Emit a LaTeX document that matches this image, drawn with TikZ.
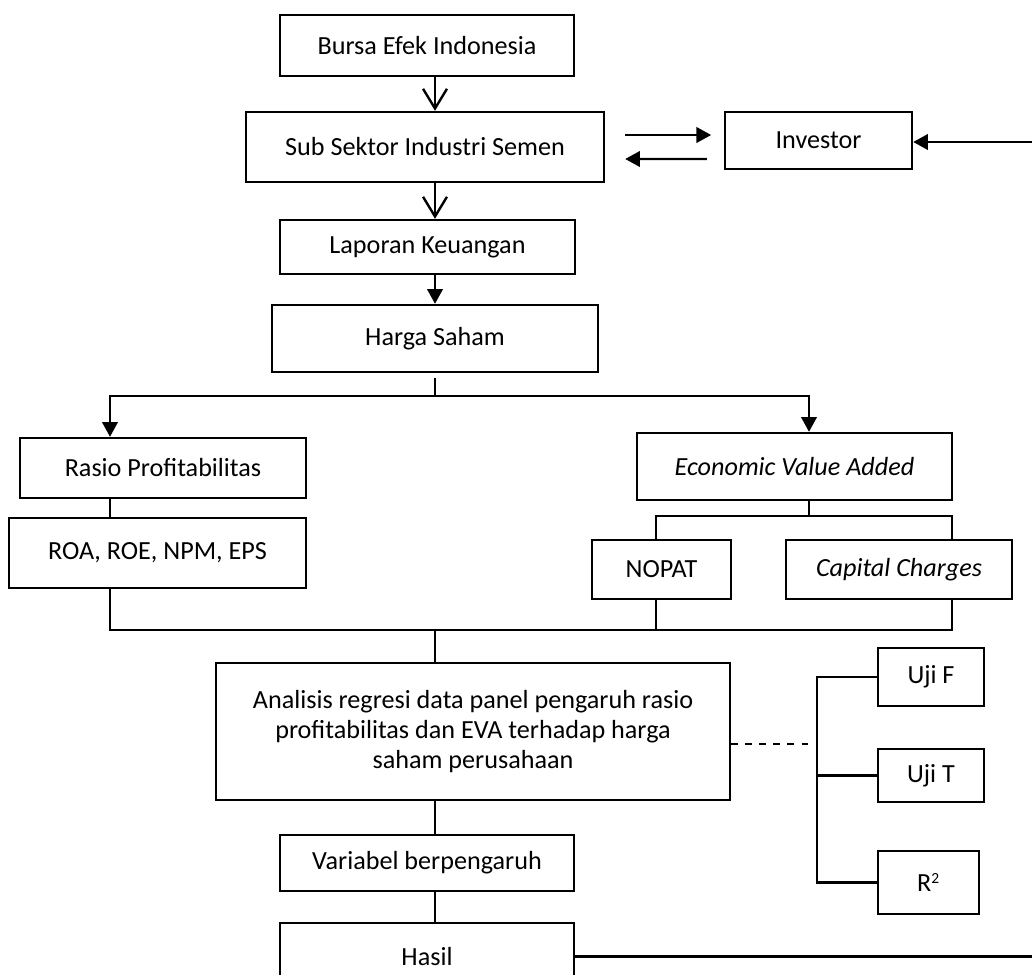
\documentclass[tikz,border=0pt]{standalone}
\usepackage{fontspec}
\setmainfont{Carlito}
\usetikzlibrary{arrows.meta, positioning, calc}

\begin{document}
\begin{tikzpicture}[x=0.025cm, y=-0.025cm,
  box/.style={draw, line width=1.7pt, inner sep=2pt, align=center, font=\fontsize{18.6}{21.5}\selectfont},
  boxsize/.style 2 args={minimum width=#1*0.025cm, minimum height=#2*0.025cm},
  link/.style={line width=1.7pt},
  openarrow/.style={link, -{Straight Barb[length=14pt, width=17pt, line width=1.7pt]}},
  fillarrow/.style={link, -{Triangle[length=10.5pt, width=11pt]}}
]
\useasboundingbox (0,0) rectangle (1032,974);

% main column
\node[box, boxsize={294}{61}] (bursa) at (427,45.5) {Bursa Efek Indonesia};
\node[box, boxsize={358}{70}] (sub) at (425,147) {Sub Sektor Industri Semen};
\node[box, boxsize={295}{54}] (lap) at (427.5,247) {Laporan Keuangan};
\node[box, boxsize={326}{67}] (harga) at (435,338.5) {Harga Saham};
\node[box, boxsize={187}{57}] (inv) at (818.5,140.5) {Investor};

% two branches
\node[box, boxsize={286}{60}] (rasio) at (163,468) {Rasio Profitabilitas};
\node[box, boxsize={297}{70}] (roa) at (157.5,553) {ROA, ROE, NPM, EPS};
\node[box, boxsize={315}{67}] (eva) at (794.5,466.5) {\itshape Economic Value Added};
\node[box, boxsize={139}{59}] (nopat) at (661.5,569.5) {NOPAT};
\node[box, boxsize={226}{59}] (cap) at (899,569.5) {\itshape Capital Charges};

% analysis and tests
\node[box, boxsize={514}{137}] (anal) at (473,731.5) {Analisis regresi data panel pengaruh rasio\\profitabilitas dan EVA terhadap harga\\saham perusahaan};
\node[box, boxsize={106}{58}] (ujif) at (931,677) {Uji F};
\node[box, boxsize={106}{53}] (ujit) at (931,775.5) {Uji T};
\node[box, boxsize={101}{63}] (rsq) at (928.5,882.5) {R\textsuperscript{\fontsize{11}{11}\selectfont 2}};
\node[box, boxsize={294}{56}] (var) at (427,863) {Variabel berpengaruh};
\node[box, boxsize={294}{67}] (hasil) at (427,956.5) {Hasil};

% helper coordinates
\coordinate (split) at (435,396);
\coordinate (splitL) at (110,396);
\coordinate (splitR) at (809,396);
\coordinate (busL) at (110,630);
\coordinate (busR) at (952,630);
\coordinate (busM) at (435,630);
\coordinate (evaM) at (809,516);
\coordinate (evaL) at (656,516);
\coordinate (evaR) at (952,516);
\coordinate (dashend) at (808,744);
\coordinate (brk) at (817,0);
\coordinate (edge) at (1040,0);
\coordinate (invIn) at (1040,142);

\draw[openarrow] (bursa.south -| harga.north) -- (sub.north -| harga.north);
\draw[openarrow] (sub.south -| harga.north) -- (lap.north -| harga.north);
\draw[fillarrow] (lap.south -| harga.north) -- (harga.north);
\draw[fillarrow] ($(sub.east)+(20,-12)$) -- ($(sub.east)+(106,-12)$);
\draw[fillarrow] ($(inv.west)+(-17,18.5)$) -- ($(sub.east)+(20,12)$);
\draw[fillarrow] (invIn) -- (invIn -| inv.east);

\draw[link] ($(harga.south)+(0,5)$) -- (split);
\draw[fillarrow] (split) -- (splitL) -- (splitL |- rasio.north);
\draw[fillarrow] (split) -- (splitR) -- (splitR |- eva.north);
\draw[link] (splitL |- rasio.south) -- (splitL |- roa.north);
\draw[link] (eva.south -| evaM) -- (evaM);
\draw[link] (evaL |- nopat.north) -- (evaL) -- (evaR) -- (evaR |- cap.north);
\draw[link] (evaL |- nopat.south) -- (evaL |- busL);
\draw[link] (splitL |- roa.south) -- (busL) -- (busR) -- (busR |- cap.south);
\draw[link] (busM) -- (anal.north -| busM);

\draw[link, dash pattern=on 5pt off 5pt] (dashend -| anal.east) -- (dashend);
\draw[link] (ujif.west) -- (ujif.west -| brk) -- (rsq.west -| brk) -- (rsq.west);
\draw[link] (ujit.west) -- (ujit.west -| brk);

\draw[link] (anal.south -| busM) -- (var.north -| busM);
\draw[link] (var.south -| busM) -- (hasil.north -| busM);
\draw[link] (hasil.east) -- (hasil.east -| edge);
\end{tikzpicture}
\end{document}
